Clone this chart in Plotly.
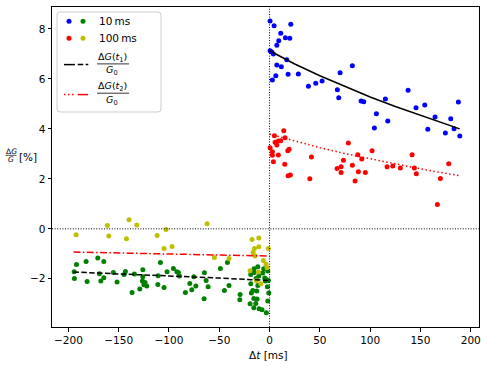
import plotly.graph_objects as go

# ---------------- data ----------------
blue_x = [0.5, 4.5, 21.1, 11.1, 15.7, 20.1, 9.1, 7.2, 0.5, 2.2, 3.8, 17.1, 7.2, 11.7, 6.2, 2.8,
          18.4, 28.6, 38.6, 45.9, 52.2, 70.1, 82.3, 67.4, 68.8, 91.0, 93.6, 115.1, 137.7, 106.2,
          104.2, 117.5, 145.6, 154.3, 164.5, 157.3, 174.8, 180.1, 183.4, 187.7, 189.1]
blue_y = [8.32, 8.13, 8.19, 7.83, 7.65, 7.63, 7.53, 7.35, 7.13, 7.08, 7.0, 6.77, 6.56, 6.49, 6.13, 5.96,
          6.19, 6.2, 5.71, 5.83, 5.92, 6.25, 6.53, 5.57, 5.25, 5.12, 5.09, 5.2, 5.55, 4.61,
          4.04, 4.32, 4.85, 4.96, 4.48, 3.99, 3.84, 4.41, 4.01, 5.08, 3.72]

red_x = [0.5, 4.8, 5.5, 7.2, 8.7, 11.1, 14.1, 15.4, 2.8, 2.8, 8.7, 3.8, 18.1, 19.4, 15.1, 18.4,
         20.7, 41.6, 40.0, 67.1, 71.1, 73.4, 71.1, 78.3, 82.3, 85.0, 87.7, 88.3, 91.7, 95.2,
         101.9, 116.8, 122.5, 130.0, 141.7, 143.9, 145.9, 169.8, 178.1, 166.8]
red_y = [3.25, 3.73, 3.47, 3.36, 3.52, 3.53, 3.93, 3.65, 3.09, 2.95, 2.96, 2.69, 3.13, 3.19, 2.59, 2.12,
         2.15, 2.88, 2.0, 2.41, 2.49, 2.75, 2.25, 3.44, 2.55, 1.91, 2.97, 2.28, 2.8, 2.25,
         3.13, 2.49, 2.52, 2.43, 2.97, 2.43, 2.2, 2.01, 2.61, 0.97]

green_x = [-194.3, -194.0, -192.0, -182.4, -181.4, -170.8, -164.8, -169.2, -167.8, -164.8,
           -155.3, -151.6, -144.6, -143.3, -136.7, -134.4, -129.0, -126.0, -126.0, -126.4,
           -123.8, -122.1, -125.0, -110.8, -111.1, -108.5, -104.9, -101.9, -95.6, -92.2,
           -90.7, -89.7, -83.7, -79.3, -77.3, -75.3, -73.3, -64.8, -63.1, -61.1, -65.1,
           -48.9, -44.9, -41.9, -40.3, -29.3, -29.6, -18.7, -18.7, -18.1, -19.4, -15.7,
           -13.7, -12.4, -15.7, -16.7, -15.4, -15.4, -11.7, -10.7, -13.4, -11.7, -12.7,
           -10.4, -7.5, -3.2, -5.8, -4.8, -3.2, -1.8, -1.8, -0.8, -2.2, -6.8, -4.2, -1.2]
green_y = [-1.72, -1.99, -1.43, -1.31, -2.11, -1.17, -1.31, -1.8, -2.09, -1.96,
           -1.75, -2.13, -1.83, -1.71, -2.55, -1.81, -2.41, -1.64, -1.92, -2.09,
           -2.15, -2.29, -2.24, -1.88, -2.23, -1.35, -2.35, -1.72, -1.59, -1.72,
           -1.75, -1.89, -2.55, -2.19, -2.44, -1.92, -2.29, -1.76, -2.07, -2.32, -2.8,
           -1.59, -2.47, -1.35, -2.27, -2.63, -2.84, -1.83, -2.2, -2.57, -3.0, -3.16,
           -2.99, -2.81, -2.79, -2.47, -1.6, -1.75, -1.52, -1.89, -1.99, -2.27, -2.49,
           -3.2, -3.24, -3.36, -1.6, -1.97, -2.03, -1.69, -2.89, -2.57, -2.32, -1.77, -2.09, -2.07]

yellow_x = [-192.3, -161.2, -159.8, -139.7, -142.3, -132.0, -111.8, -102.9, -104.9, -96.9,
            -62.1, -54.9, -40.3, -17.4, -10.7, -15.1, -10.7, -16.4, -14.4, -6.2, -3.5, -1.2,
            -19.4, -11.1, -13.1, -8.7, -2.5]
yellow_y = [-0.24, 0.13, -0.29, 0.36, -0.4, 0.15, -0.27, -0.03, -0.79, -0.71,
            0.2, -1.15, -1.19, -0.43, -0.37, -0.79, -0.72, -0.95, -1.09, -1.27, -1.41, -0.79,
            -1.68, -1.73, -2.08, -2.2, -1.56]

# fit curves
fit_pos_x = [0, 25, 50, 75, 100, 125, 150, 175, 189]
fit1_pos_y = [7.13, 6.6, 6.13, 5.69, 5.28, 4.9, 4.55, 4.22, 4.0]
fit2_pos_y = [3.79, 3.51, 3.25, 3.01, 2.8, 2.59, 2.4, 2.22, 2.13]
fit_neg_x = [-195, -150, -100, -50, 0]
fit1_neg_y = [-1.73, -1.80, -1.88, -1.97, -2.07]
fit2_neg_y = [-0.93, -0.965, -1.005, -1.045, -1.09]

x_ticks = [-200, -150, -100, -50, 0, 50, 100, 150, 200]
y_ticks = [-2, 0, 2, 4, 6, 8]

legend_labels = ["10\u2009ms", "100\u2009ms"]

# ---------------- figure ----------------
FONT = "DejaVu Sans"
W, H = 488, 367
L, R, T, B = 52, 9, 7, 40
PW, PH = W - L - R, H - T - B

fig = go.Figure()

def pts(x, y, color):
    fig.add_trace(go.Scatter(x=x, y=y, mode="markers", showlegend=False,
                             marker=dict(color=color, size=5, line=dict(width=0)),
                             cliponaxis=True))

pts(blue_x, blue_y, "#0000ff")
pts(red_x, red_y, "#ff0000")
pts(green_x, green_y, "#008000")
pts(yellow_x, yellow_y, "#bfbf00")

def line(x, y, color, dash):
    fig.add_trace(go.Scatter(x=x, y=y, mode="lines", showlegend=False,
                             line=dict(color=color, width=1.5, dash=dash)))

line(fit_pos_x, fit1_pos_y, "black", "solid")
line(fit_pos_x, fit2_pos_y, "#ff0000", "1.5px,2.5px")
line(fit_neg_x, fit1_neg_y, "black", "5.5px,2.4px")
line(fit_neg_x, fit2_neg_y, "#ff0000", "7px,2.4px,1.5px,2.4px")

# zero lines
fig.add_shape(type="line", xref="x", yref="paper", x0=0, x1=0, y0=0, y1=1,
              line=dict(color="black", width=1, dash="1px,1.6px"))
fig.add_shape(type="line", xref="paper", yref="y", x0=0, x1=1, y0=0, y1=0,
              line=dict(color="black", width=1, dash="1px,1.6px"))

# ---------------- legend (drawn on pixel-like overlay axes) ----------------
lx0, ly0, lx1, ly1, r = 5, 5, 109, 105, 3
path = (f"M{lx0+r},{ly0} L{lx1-r},{ly0} Q{lx1},{ly0} {lx1},{ly0+r} L{lx1},{ly1-r} "
        f"Q{lx1},{ly1} {lx1-r},{ly1} L{lx0+r},{ly1} Q{lx0},{ly1} {lx0},{ly1-r} "
        f"L{lx0},{ly0+r} Q{lx0},{ly0} {lx0+r},{ly0} Z")
fig.add_shape(type="path", xref="x2", yref="y2", path=path, layer="below",
              fillcolor="rgba(255,255,255,0.8)", line=dict(color="#cccccc", width=1))

fig.add_trace(go.Scatter(x=[17, 31], y=[14.3, 14.3], xaxis="x2", yaxis="y2", mode="markers",
                         showlegend=False, marker=dict(color=["#0000ff", "#008000"], size=5)))
fig.add_trace(go.Scatter(x=[17, 31], y=[31.3, 31.3], xaxis="x2", yaxis="y2", mode="markers",
                         showlegend=False, marker=dict(color=["#ff0000", "#bfbf00"], size=5)))
fig.add_trace(go.Scatter(x=[12, 23], y=[57.6, 57.6], xaxis="x2", yaxis="y2", mode="lines",
                         showlegend=False, line=dict(color="black", width=1.5)))
fig.add_trace(go.Scatter(x=[25.7, 36.3], y=[57.6, 57.6], xaxis="x2", yaxis="y2", mode="lines",
                         showlegend=False, line=dict(color="black", width=1.5, dash="5.5px,2.4px")))
fig.add_trace(go.Scatter(x=[12, 22], y=[87.6, 87.6], xaxis="x2", yaxis="y2", mode="lines",
                         showlegend=False, line=dict(color="#ff0000", width=1.5, dash="1.5px,2.5px")))
fig.add_trace(go.Scatter(x=[25.7, 36], y=[87.6, 87.6], xaxis="x2", yaxis="y2", mode="lines",
                         showlegend=False, line=dict(color="#ff0000", width=1.5)))

ann = []
ann.append(dict(x=45, y=14.3, xref="x2", yref="y2", text=legend_labels[0], showarrow=False,
                xanchor="left", yanchor="middle", font=dict(size=10.5)))
ann.append(dict(x=45, y=31.3, xref="x2", yref="y2", text=legend_labels[1], showarrow=False,
                xanchor="left", yanchor="middle", font=dict(size=10.5)))
for yc, sub in [(50.3, "1"), (79.6, "2")]:
    ann.append(dict(x=60, y=yc, xref="x2", yref="y2", showarrow=False, xanchor="center",
                    yanchor="middle", font=dict(size=9.5),
                    text=f"Δ<i>G</i>(<i>t</i><sub>{sub}</sub>)"))
    ann.append(dict(x=60, y=yc + 13.5, xref="x2", yref="y2", showarrow=False, xanchor="center",
                    yanchor="middle", font=dict(size=9.5), text="<i>G</i><sub>0</sub>"))
    fig.add_shape(type="line", xref="x2", yref="y2", x0=45, x1=77, y0=yc + 6.6, y1=yc + 6.6,
                  line=dict(color="black", width=0.8))

# axis labels
def px(xo):
    return (xo - L) / PW

def py(yo):
    return (T + PH - yo) / PH

ann.append(dict(x=px(268), y=py(355), xref="paper", yref="paper", showarrow=False,
                xanchor="center", yanchor="middle", text="Δ<i>t</i> [ms]", font=dict(size=10.5)))
ann.append(dict(x=px(11), y=py(151.5), xref="paper", yref="paper", showarrow=False,
                xanchor="center", yanchor="middle", text="Δ<i>G</i>", font=dict(size=7.5)))
ann.append(dict(x=px(11), y=py(159.5), xref="paper", yref="paper", showarrow=False,
                xanchor="center", yanchor="middle", text="<i>G</i>", font=dict(size=7.5)))
ann.append(dict(x=px(17), y=py(157), xref="paper", yref="paper", showarrow=False,
                xanchor="left", yanchor="middle", text="[%]", font=dict(size=10.5)))
fig.add_shape(type="line", xref="paper", yref="paper", x0=px(5.5), x1=px(16.5),
              y0=py(155.3), y1=py(155.3), line=dict(color="black", width=0.7))

fig.update_layout(
    width=W, height=H,
    margin=dict(l=L, r=R, t=T, b=B, pad=0),
    paper_bgcolor="white", plot_bgcolor="white",
    font=dict(family=FONT, size=10.5, color="black"),
    showlegend=False,
    annotations=ann,
    xaxis=dict(range=[-216.3, 208.2], tickvals=x_ticks, showgrid=False, zeroline=False,
               showline=True, mirror=True, linecolor="black", linewidth=1,
               ticks="outside", ticklen=3.5, tickwidth=0.8, tickcolor="black",
               tickfont=dict(size=10.5)),
    yaxis=dict(range=[-3.93, 8.88], tickvals=y_ticks, showgrid=False, zeroline=False,
               showline=True, mirror=True, linecolor="black", linewidth=1,
               ticks="outside", ticklen=3.5, tickwidth=0.8, tickcolor="black",
               tickfont=dict(size=10.5)),
    xaxis2=dict(overlaying="x", range=[0, PW], visible=False, fixedrange=True),
    yaxis2=dict(overlaying="y", range=[PH, 0], visible=False, fixedrange=True),
)

fig.write_html("out.html")
